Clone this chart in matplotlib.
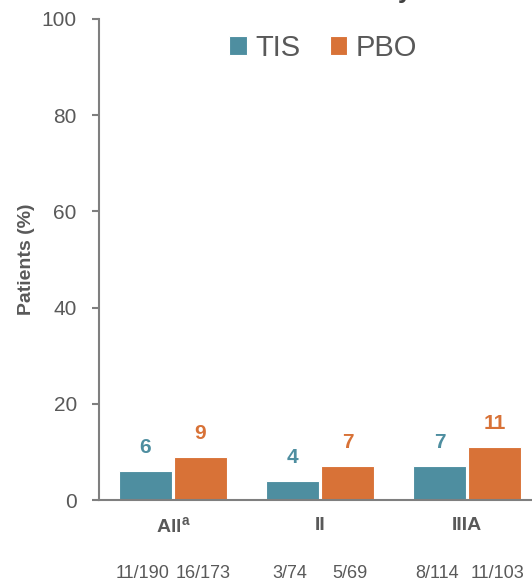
import matplotlib
matplotlib.use('Agg')
import matplotlib.pyplot as plt
import numpy as np

plt.rcParams['font.family'] = ['Liberation Sans', 'DejaVu Sans']

# recurrence by stage
groups = ['All$^{\\mathregular{a}}$', 'II', 'IIIA']
tis = [6, 4, 7]
pbo = [9, 7, 11]
tis_n = ['11/190', '3/74', '8/114']
pbo_n = ['16/173', '5/69', '11/103']

c_tis = '#4e8ea0'
c_pbo = '#d87237'
grey = '#595959'

fig = plt.figure(figsize=(5.32, 5.85), dpi=100)
ax = fig.add_axes([99/532, 85/585, 442/532, 481/585])

x = np.arange(len(groups))
w = 0.36
off = 0.187
ax.bar(x - off, tis, w, color=c_tis, edgecolor='white', linewidth=0.8, label='TIS')
ax.bar(x + off, pbo, w, color=c_pbo, edgecolor='white', linewidth=0.8, label='PBO')

for xi, v in zip(x, tis):
    ax.annotate(str(v), (xi - off, v), xytext=(0, 17), textcoords='offset points',
                ha='center', va='center', color=c_tis, fontsize=15, fontweight='bold')
for xi, v in zip(x, pbo):
    ax.annotate(str(v), (xi + off, v), xytext=(0, 17), textcoords='offset points',
                ha='center', va='center', color=c_pbo, fontsize=15, fontweight='bold')

ax.set_xlim(-0.503, 2.503)
ax.set_ylim(0, 100)
ax.set_yticks(range(0, 101, 20))
ax.set_xticks(x)
ax.set_xticklabels(groups, fontsize=14, fontweight='bold', color=grey)
ax.tick_params(axis='x', length=0, pad=12)
ax.tick_params(axis='y', length=5, width=1.5, color='#7f7f7f', labelsize=15,
               labelcolor=grey, pad=11)

for s in ['top', 'right']:
    ax.spines[s].set_visible(False)
for s in ['left', 'bottom']:
    ax.spines[s].set_color('#7f7f7f')
    ax.spines[s].set_linewidth(1.5)

ax.set_ylabel('Patients (%)', fontsize=14, fontweight='bold', color=grey)
ax.yaxis.set_label_coords(-0.145, 0.5)

# patient counts under each bar
for xi, a, b in zip(x, tis_n, pbo_n):
    ax.text(xi - off - 0.02, -15.2, a, ha='center', va='center', fontsize=13, color=grey)
    ax.text(xi + off + 0.02, -15.2, b, ha='center', va='center', fontsize=13, color=grey)

ax.legend(loc='upper center', bbox_to_anchor=(0.507, 1.024), ncol=2, frameon=False,
          fontsize=21, handlelength=0.6, handleheight=0.6, handletextpad=0.3,
          columnspacing=1.0, labelcolor=grey)

fig.text(412/532, 1 + 2/585, 'Recurrence by', ha='right', va='baseline',
         fontsize=18, fontweight='bold', color='#404040')

fig.savefig('out.png', dpi=100)
